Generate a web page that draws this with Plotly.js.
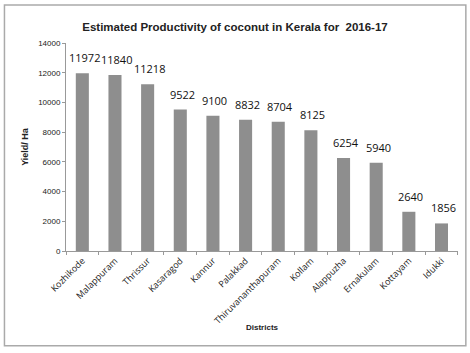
<!DOCTYPE html>
<html><head><meta charset="utf-8">
<script src="https://cdn.plot.ly/plotly-3.0.1.min.js"></script>
<style>body{margin:0;background:#fff}#c{width:470px;height:353px}</style>
</head><body><div id="c"></div>
<script>
const districts = ["Kozhikode","Malappuram","Thrissur","Kasaragod","Kannur","Palakkad","Thiruvananthapuram","Kollam","Alappuzha","Ernakulam","Kottayam","Idukki"];
const yieldPerHa = [11972,11840,11218,9522,9100,8832,8704,8125,6254,5940,2640,1856];
const yTicks = [0,2000,4000,6000,8000,10000,12000,14000];
const yTickText = ["0","2000","4000","6000","8000","10000","12000","14000"];

const annotations = districts.map((d,i)=>({
  x: d, y: yieldPerHa[i], xref:'x', yref:'y', text: String(yieldPerHa[i]),
  showarrow:false, yanchor:'bottom', yshift:6, xshift:2,
  font:{family:'Open Sans, Liberation Sans, sans-serif', size:11, color:'#111'}
}));
annotations.push({xref:'paper', yref:'paper', x:0.5, y:-0.4, text:'<b>Districts</b>', showarrow:false,
  font:{family:'Liberation Sans, sans-serif', size:8, color:'#222'}});

Plotly.newPlot('c', [{
  type:'bar', x:districts, y:yieldPerHa, width:0.4,
  marker:{color:'#8e8e8e', line:{width:0}}
}], {
  width:470, height:353,
  margin:{l:66, r:12, t:43, b:102},
  paper_bgcolor:'#fff', plot_bgcolor:'#fff',
  title:{text:'<b>Estimated Productivity of coconut in Kerala for  2016-17</b>', x:0.5, xanchor:'center', y:0.925, yanchor:'middle',
    font:{family:'Liberation Sans, sans-serif', size:11.5, color:'#222'}},
  xaxis:{type:'category', tickangle:-45, showgrid:false, showline:true, linecolor:'#999', linewidth:1,
    ticks:'outside', tickson:'boundaries', ticklen:3, tickcolor:'#999',
    tickfont:{family:'Open Sans, Liberation Sans, sans-serif', size:9, color:'#222'}},
  yaxis:{range:[0,14000], tickmode:'array', tickvals:yTicks, ticktext:yTickText, showgrid:false, showline:true, linecolor:'#999', linewidth:1,
    ticks:'outside', ticklen:3, tickcolor:'#999', zeroline:false,
    tickfont:{family:'Liberation Sans, sans-serif', size:8, color:'#222'},
    title:{text:'<b>Yield/ Ha</b>', standoff:8, font:{family:'Liberation Sans, sans-serif', size:9, color:'#222'}}},
  annotations: annotations,
  shapes:[{type:'rect', xref:'paper', yref:'paper', x0:-0.157, x1:1.02, y0:-0.455, y1:1.183, line:{color:'#aaa', width:1.5}}],
  showlegend:false
}, {displayModeBar:false, staticPlot:true});
</script></body></html>
